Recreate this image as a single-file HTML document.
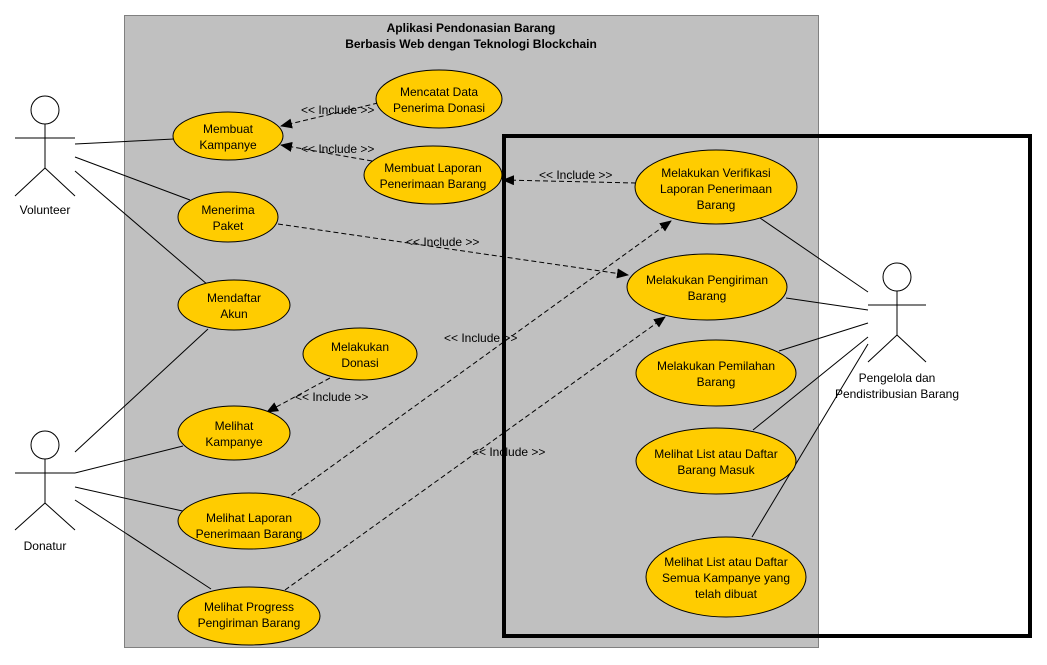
<!DOCTYPE html>
<html><head><meta charset="utf-8"><style>
html,body{margin:0;padding:0;background:#fff}
svg{display:block}
text{font-family:"Liberation Sans",Arial,sans-serif;font-size:12px;fill:#000}
.t{text-anchor:middle}
</style></head><body>
<svg width="1047" height="665" viewBox="0 0 1047 665" xmlns="http://www.w3.org/2000/svg">
<defs>
<marker id="a" markerWidth="12" markerHeight="10" refX="11" refY="5" orient="auto" markerUnits="userSpaceOnUse">
<path d="M0,0 L12,5 L0,10 z" fill="#000"/></marker>
</defs>
<rect x="124.5" y="15.5" width="694" height="632" fill="#c0c0c0" stroke="#808080" stroke-width="1"/>
<text class="t" x="471" y="32" font-weight="bold">Aplikasi Pendonasian Barang</text>
<text class="t" x="471" y="48" font-weight="bold">Berbasis Web dengan Teknologi Blockchain</text>
<rect x="504" y="136" width="526" height="500" fill="none" stroke="#000" stroke-width="4"/>

<g stroke="#000" stroke-width="1" fill="none">
<!-- Volunteer -->
<circle cx="45" cy="110" r="14"/>
<line x1="45" y1="124" x2="45" y2="168"/><line x1="15" y1="138" x2="75" y2="138"/>
<line x1="45" y1="168" x2="15" y2="196"/><line x1="45" y1="168" x2="75" y2="196"/>
<!-- Donatur -->
<circle cx="45" cy="445" r="14"/>
<line x1="45" y1="459" x2="45" y2="503"/><line x1="15" y1="473" x2="75" y2="473"/>
<line x1="45" y1="503" x2="15" y2="530"/><line x1="45" y1="503" x2="75" y2="530"/>
<!-- Pengelola -->
<circle cx="897" cy="277" r="14"/>
<line x1="897" y1="291" x2="897" y2="335"/><line x1="868" y1="305" x2="926" y2="305"/>
<line x1="897" y1="335" x2="868" y2="362"/><line x1="897" y1="335" x2="926" y2="362"/>

<line x1="75" y1="144" x2="174" y2="139"/>
<line x1="75" y1="157" x2="190" y2="200"/>
<line x1="75" y1="171" x2="208" y2="285"/>
<line x1="75" y1="452" x2="208" y2="329"/>
<line x1="75" y1="473" x2="183" y2="446"/>
<line x1="75" y1="487" x2="187" y2="512"/>
<line x1="75" y1="500" x2="211" y2="589"/>
<line x1="868" y1="292" x2="760" y2="218"/>
<line x1="868" y1="310" x2="786" y2="298"/>
<line x1="868" y1="323" x2="779" y2="351"/>
<line x1="868" y1="337" x2="753" y2="430"/>
<line x1="868" y1="344" x2="752" y2="537"/>
</g>
<text class="t" x="45" y="214">Volunteer</text>
<text class="t" x="45" y="550">Donatur</text>
<text class="t" x="897" y="382">Pengelola dan</text>
<text class="t" x="897" y="398">Pendistribusian Barang</text>

<g stroke="#000" stroke-width="1" stroke-dasharray="5,3" fill="none" marker-end="url(#a)">
<line x1="378" y1="103" x2="281" y2="126"/>
<line x1="372" y1="161" x2="281" y2="145"/>
<line x1="636" y1="183" x2="503" y2="180"/>
<line x1="278" y1="224" x2="628" y2="275"/>
<line x1="285" y1="500" x2="671" y2="221"/>
<line x1="285" y1="590" x2="665" y2="317"/>
<line x1="330" y1="378" x2="267" y2="412"/>
</g>
<text x="301" y="114">&lt;&lt; Include &gt;&gt;</text>
<text x="301" y="153">&lt;&lt; Include &gt;&gt;</text>
<text x="539" y="179">&lt;&lt; Include &gt;&gt;</text>
<text x="406" y="246">&lt;&lt; Include &gt;&gt;</text>
<text x="444" y="342">&lt;&lt; Include &gt;&gt;</text>
<text x="472" y="456">&lt;&lt; Include &gt;&gt;</text>
<text x="295" y="401">&lt;&lt; Include &gt;&gt;</text>

<g fill="#ffcc00" stroke="#000" stroke-width="1">
<ellipse cx="228" cy="136" rx="55" ry="24"/>
<ellipse cx="439" cy="99" rx="63" ry="29"/>
<ellipse cx="433" cy="175" rx="69" ry="29"/>
<ellipse cx="228" cy="217" rx="50" ry="25"/>
<ellipse cx="234" cy="305" rx="56" ry="25"/>
<ellipse cx="360" cy="354" rx="57" ry="26"/>
<ellipse cx="234" cy="433" rx="56" ry="27"/>
<ellipse cx="249" cy="521" rx="71" ry="28"/>
<ellipse cx="249" cy="616" rx="71" ry="29"/>
<ellipse cx="716" cy="187" rx="81" ry="37"/>
<ellipse cx="707" cy="287" rx="80" ry="33"/>
<ellipse cx="716" cy="373" rx="80" ry="33"/>
<ellipse cx="716" cy="461" rx="80" ry="33"/>
<ellipse cx="726" cy="577" rx="80" ry="40"/>
</g>
<g class="t">
<text class="t" x="228" y="133">Membuat</text><text class="t" x="228" y="149">Kampanye</text>
<text class="t" x="439" y="96">Mencatat Data</text><text class="t" x="439" y="112">Penerima Donasi</text>
<text class="t" x="433" y="172">Membuat Laporan</text><text class="t" x="433" y="188">Penerimaan Barang</text>
<text class="t" x="228" y="214">Menerima</text><text class="t" x="228" y="230">Paket</text>
<text class="t" x="234" y="302">Mendaftar</text><text class="t" x="234" y="318">Akun</text>
<text class="t" x="360" y="351">Melakukan</text><text class="t" x="360" y="367">Donasi</text>
<text class="t" x="234" y="430">Melihat</text><text class="t" x="234" y="446">Kampanye</text>
<text class="t" x="249" y="522">Melihat Laporan</text><text class="t" x="249" y="538">Penerimaan Barang</text>
<text class="t" x="249" y="611">Melihat Progress</text><text class="t" x="249" y="627">Pengiriman Barang</text>
<text class="t" x="716" y="177">Melakukan Verifikasi</text><text class="t" x="716" y="193">Laporan Penerimaan</text><text class="t" x="716" y="209">Barang</text>
<text class="t" x="707" y="284">Melakukan Pengiriman</text><text class="t" x="707" y="300">Barang</text>
<text class="t" x="716" y="370">Melakukan Pemilahan</text><text class="t" x="716" y="386">Barang</text>
<text class="t" x="716" y="458">Melihat List atau Daftar</text><text class="t" x="716" y="474">Barang Masuk</text>
<text class="t" x="726" y="566">Melihat List atau Daftar</text><text class="t" x="726" y="582">Semua Kampanye yang</text><text class="t" x="726" y="598">telah dibuat</text>
</g>
</svg>
</body></html>
